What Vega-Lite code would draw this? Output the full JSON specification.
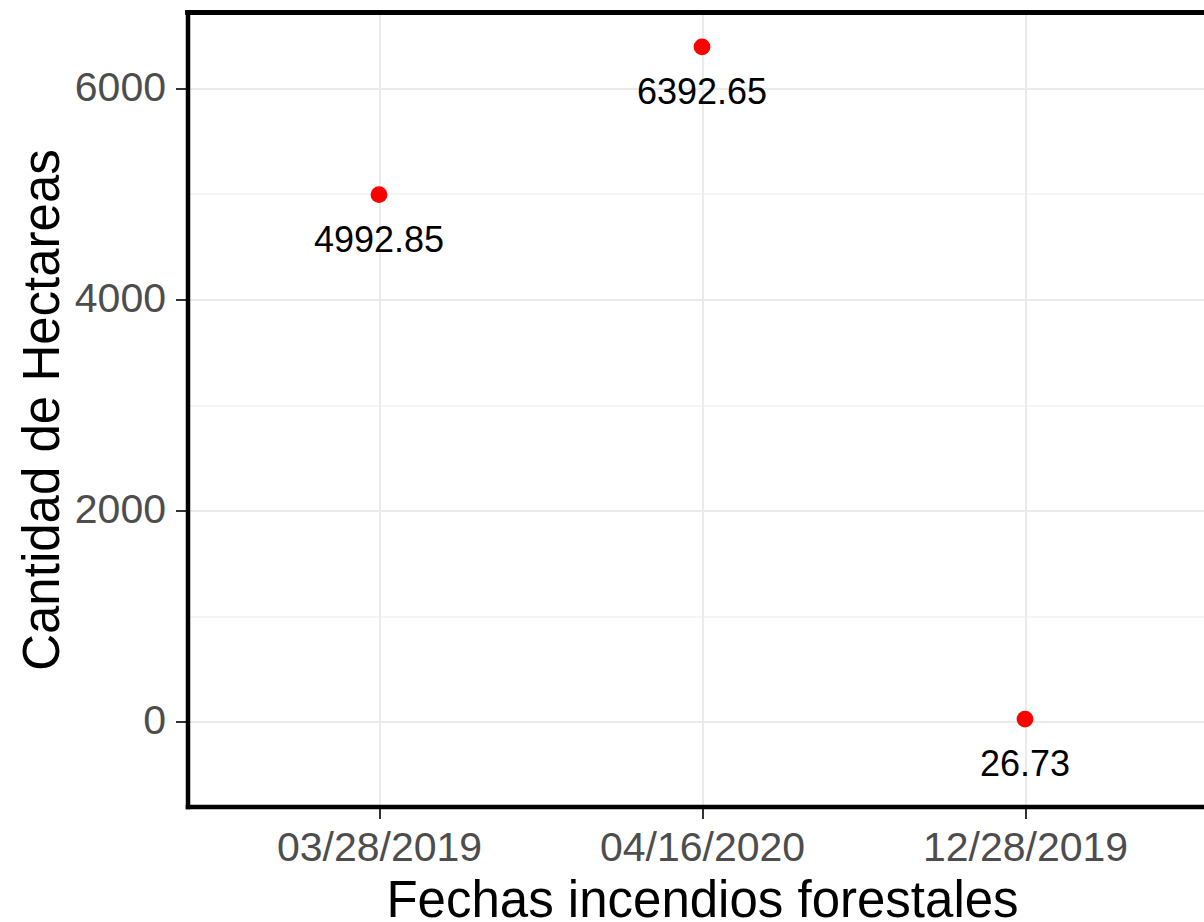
{
  "$schema": "https://vega.github.io/schema/vega-lite/v6.json",
  "width": 1016.5,
  "height": 794,
  "autosize": {"type": "none"},
  "padding": {"left": 187.5, "top": 12.5, "right": 0, "bottom": 115.5},
  "background": "white",
  "config": {
    "view": {"stroke": null},
    "font": "Liberation Sans"
  },
  "data": {
    "values": [
      {"fecha": "03/28/2019", "hectareas": 4992.85},
      {"fecha": "04/16/2020", "hectareas": 6392.65},
      {"fecha": "12/28/2019", "hectareas": 26.73}
    ]
  },
  "layer": [
    {
      "mark": {"type": "circle", "size": 283, "color": "#FF0000", "opacity": 1},
      "encoding": {
        "x": {
          "field": "fecha",
          "type": "ordinal",
          "sort": null,
          "scale": {"type": "point", "padding": 0.5735, "align": 0.5169},
          "axis": {
            "title": "Fechas incendios forestales",
            "titleFontSize": 51,
            "titleFontWeight": "normal",
            "titleColor": "#000000",
            "titleX": 514.5,
            "titleY": 110,
            "titleAlign": "center",
            "titleBaseline": "alphabetic",
            "labelAngle": 0,
            "labelFontSize": 41,
            "labelLimit": 0,
            "labelColor": "#4D4D4D",
            "labelPadding": 10,
            "tickColor": "#333333",
            "tickWidth": 2,
            "tickSize": 12,
            "domainColor": "#000000",
            "domainWidth": 4.5,
            "domainCap": "square",
            "grid": true,
            "gridColor": "#EBEBEB",
            "gridWidth": 2
          }
        },
        "y": {
          "field": "hectareas",
          "type": "quantitative",
          "scale": {"domain": [-801, 6718], "nice": false, "zero": false},
          "axis": {
            "title": "Cantidad de Hectareas",
            "titleFontSize": 51,
            "titleFontWeight": "normal",
            "titleColor": "#000000",
            "titleAngle": -90,
            "titleX": -129.5,
            "titleY": 397,
            "titleAlign": "center",
            "titleBaseline": "alphabetic",
            "values": [0, 1000, 2000, 3000, 4000, 5000, 6000],
            "format": "d",
            "labelExpr": "datum.value % 2000 === 0 ? datum.label : ''",
            "labelFontSize": 41,
            "labelLimit": 0,
            "labelColor": "#4D4D4D",
            "labelPadding": 10,
            "tickColor": "#333333",
            "tickWidth": 2,
            "tickSize": 12,
            "tickOpacity": {"condition": {"test": "datum.value % 2000 !== 0", "value": 0}, "value": 1},
            "domainColor": "#000000",
            "domainWidth": 4.5,
            "domainCap": "square",
            "grid": true,
            "gridColor": "#EBEBEB",
            "gridWidth": {"condition": {"test": "datum.value % 2000 !== 0", "value": 1}, "value": 2}
          }
        }
      }
    },
    {
      "mark": {"type": "text", "dy": 57, "fontSize": 36, "color": "#000000", "baseline": "alphabetic", "align": "center"},
      "encoding": {
        "x": {"field": "fecha", "type": "ordinal", "sort": null},
        "y": {"field": "hectareas", "type": "quantitative"},
        "text": {"field": "hectareas", "type": "quantitative", "format": ".2f"}
      }
    },
    {
      "mark": {"type": "rule", "color": "#000000", "strokeWidth": 4.5, "strokeCap": "square"},
      "encoding": {
        "y": {"datum": 6718}
      }
    }
  ]
}
